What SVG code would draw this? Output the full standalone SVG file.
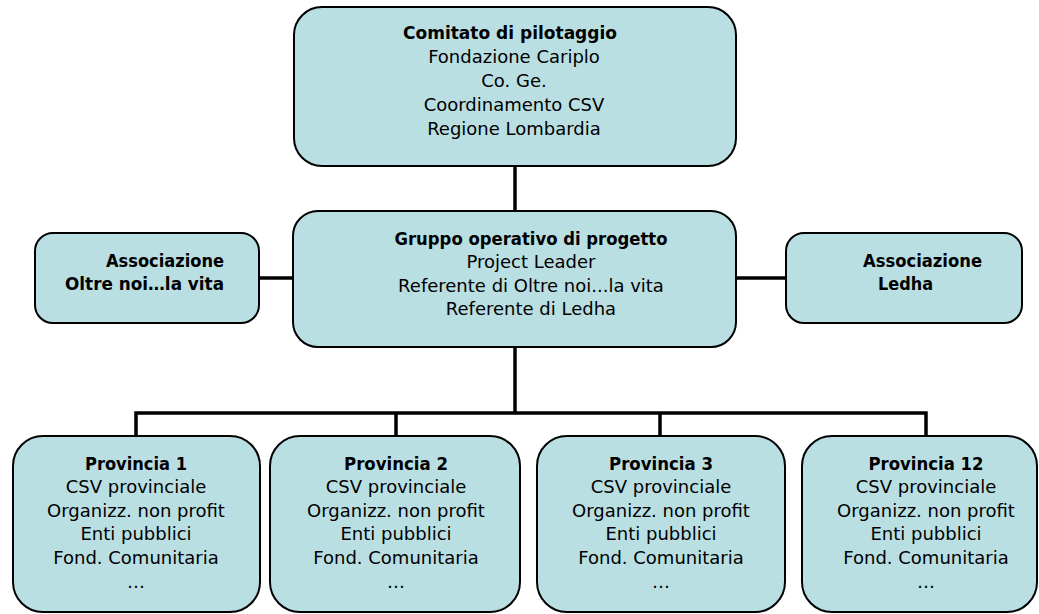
<svg xmlns="http://www.w3.org/2000/svg" width="1039" height="614" viewBox="0 0 1039 614">
<style>
.box{fill:#B9DFE3;stroke:#000;stroke-width:2}
.t{font-family:"DejaVu Sans","Liberation Sans",sans-serif;font-size:18px;fill:#000;text-anchor:middle}
.b{font-weight:bold}
.c{fill:none;stroke:#000;stroke-width:3.5}
</style>
<rect width="1039" height="614" fill="#fff"/>
<g id="connectors">
<line class="c" x1="515" y1="166" x2="515" y2="211"/>
<line class="c" x1="259" y1="278" x2="293" y2="278"/>
<line class="c" x1="736" y1="278" x2="786" y2="278"/>
<line class="c" x1="515" y1="347" x2="515" y2="413"/>
<polyline class="c" points="136,436 136,413 926,413 926,436"/>
<line class="c" x1="396" y1="413" x2="396" y2="436"/>
<line class="c" x1="660" y1="413" x2="660" y2="436"/>
</g>
<g id="comitato">
<rect class="box" x="294" y="7" width="442" height="159" rx="28"/>
<text class="t b" x="510" y="39" textLength="214" lengthAdjust="spacingAndGlyphs">Comitato di pilotaggio</text>
<text class="t" x="514" y="63">Fondazione Cariplo</text>
<text class="t" x="514" y="87">Co. Ge.</text>
<text class="t" x="514" y="111">Coordinamento CSV</text>
<text class="t" x="514" y="135">Regione Lombardia</text>
</g>
<g id="oltrenoi">
<rect class="box" x="35" y="233" width="224" height="90" rx="18"/>
<text class="t b" x="106" y="267" style="text-anchor:start" textLength="118" lengthAdjust="spacingAndGlyphs">Associazione</text>
<text class="t b" x="65" y="290" style="text-anchor:start" textLength="159" lengthAdjust="spacingAndGlyphs">Oltre noi…la vita</text>
</g>
<g id="gruppo">
<rect class="box" x="293" y="211" width="443" height="136" rx="25"/>
<text class="t b" x="531" y="245" textLength="273" lengthAdjust="spacingAndGlyphs">Gruppo operativo di progetto</text>
<text class="t" x="531" y="268">Project Leader</text>
<text class="t" x="531" y="292">Referente di Oltre noi...la vita</text>
<text class="t" x="531" y="315">Referente di Ledha</text>
</g>
<g id="ledha">
<rect class="box" x="786" y="233" width="236" height="90" rx="18"/>
<text class="t b" x="863" y="267" style="text-anchor:start" textLength="119" lengthAdjust="spacingAndGlyphs">Associazione</text>
<text class="t b" x="878" y="290" style="text-anchor:start" textLength="55" lengthAdjust="spacingAndGlyphs">Ledha</text>
</g>
<g id="provincia1">
<rect class="box" x="13" y="436" width="247" height="176" rx="30"/>
<text class="t b" x="136" y="470" textLength="102" lengthAdjust="spacingAndGlyphs">Provincia 1</text>
<text class="t" x="136" y="493">CSV provinciale</text>
<text class="t" x="136" y="517">Organizz. non profit</text>
<text class="t" x="136" y="540">Enti pubblici</text>
<text class="t" x="136" y="564">Fond. Comunitaria</text>
<text class="t" x="136" y="588">…</text>
</g>
<g id="provincia2">
<rect class="box" x="270" y="436" width="250" height="176" rx="30"/>
<text class="t b" x="396" y="470" textLength="104" lengthAdjust="spacingAndGlyphs">Provincia 2</text>
<text class="t" x="396" y="493">CSV provinciale</text>
<text class="t" x="396" y="517">Organizz. non profit</text>
<text class="t" x="396" y="540">Enti pubblici</text>
<text class="t" x="396" y="564">Fond. Comunitaria</text>
<text class="t" x="396" y="588">…</text>
</g>
<g id="provincia3">
<rect class="box" x="537" y="436" width="248" height="176" rx="30"/>
<text class="t b" x="661" y="470" textLength="104" lengthAdjust="spacingAndGlyphs">Provincia 3</text>
<text class="t" x="661" y="493">CSV provinciale</text>
<text class="t" x="661" y="517">Organizz. non profit</text>
<text class="t" x="661" y="540">Enti pubblici</text>
<text class="t" x="661" y="564">Fond. Comunitaria</text>
<text class="t" x="661" y="588">…</text>
</g>
<g id="provincia12">
<rect class="box" x="802" y="436" width="235" height="176" rx="30"/>
<text class="t b" x="926" y="470" textLength="115" lengthAdjust="spacingAndGlyphs">Provincia 12</text>
<text class="t" x="926" y="493">CSV provinciale</text>
<text class="t" x="926" y="517">Organizz. non profit</text>
<text class="t" x="926" y="540">Enti pubblici</text>
<text class="t" x="926" y="564">Fond. Comunitaria</text>
<text class="t" x="926" y="588">…</text>
</g>
</svg>
